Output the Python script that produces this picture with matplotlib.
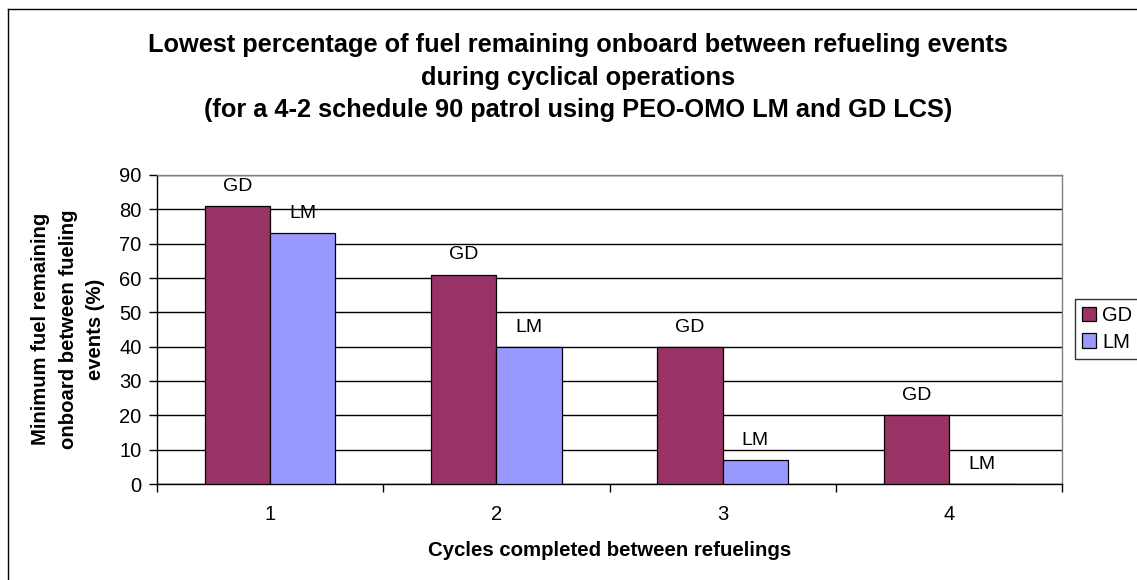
import matplotlib
matplotlib.use("Agg")
import matplotlib.pyplot as plt
from matplotlib.lines import Line2D
import numpy as np

categories = ["1", "2", "3", "4"]
gd_values = [81, 61, 40, 20]
lm_values = [73, 40, 7, 0]
series_names = ["GD", "LM"]
title_lines = [
    "Lowest percentage of fuel remaining onboard between refueling events",
    "during cyclical operations",
    "(for a 4-2 schedule 90 patrol using PEO-OMO LM and GD LCS)",
]
y_label = "Minimum fuel remaining\nonboard between fueling\nevents (%)"
x_label = "Cycles completed between refuelings"

plt.rcParams['font.family'] = ['Liberation Sans', 'DejaVu Sans']

W, H = 1137, 580
fig = plt.figure(figsize=(W / 100, H / 100), dpi=100)
fig.patch.set_facecolor("white")

left, right, top, bottom = 157, 1062, 175, 484
ax = fig.add_axes([left / W, 1 - bottom / H, (right - left) / W, (bottom - top) / H])

x = np.arange(len(categories))
bw = 0.288
gd_color = "#993366"
lm_color = "#9999FF"
b1 = ax.bar(x - bw / 2, gd_values, bw, color=gd_color, edgecolor="black", linewidth=0.9, zorder=3, label=series_names[0])
b2 = ax.bar(x + bw / 2, lm_values, bw, color=lm_color, edgecolor="black", linewidth=0.9, zorder=3, label=series_names[1])

for bars, name in ((b1, series_names[0]), (b2, series_names[1])):
    for r in bars:
        ax.annotate(name, (r.get_x() + r.get_width() / 2, r.get_height()),
                    xytext=(0, 8), textcoords="offset points",
                    ha="center", va="bottom", fontsize=14, zorder=4)

ax.set_xlim(-0.5, len(categories) - 0.5)
ax.set_ylim(0, 90)
ax.set_yticks(np.arange(0, 91, 10))
ax.yaxis.grid(True, color="black", linewidth=1.0, zorder=0)
ax.set_axisbelow(True)

ax.set_xticks(np.arange(-0.5, len(categories), 1.0))
ax.set_xticklabels([])
ax.set_xticks(x, minor=True)
ax.set_xticklabels(categories, minor=True)
ax.tick_params(axis="x", which="major", length=6, width=1, direction="out", color="black")
ax.tick_params(axis="x", which="minor", length=0, pad=15, labelsize=14.5)
ax.tick_params(axis="y", length=6, width=1, direction="out", pad=5, labelsize=14.5)

for s in ("left", "bottom"):
    ax.spines[s].set_color("black")
    ax.spines[s].set_linewidth(1.0)
for s in ("top", "right"):
    ax.spines[s].set_color("#808080")
    ax.spines[s].set_linewidth(1.0)

for yy, t in zip([45, 78, 110], title_lines):
    fig.text(578 / W, 1 - yy / H, t, ha="center", va="center", fontsize=18.3, fontweight="bold")

fig.text(68 / W, 1 - 329 / H, y_label, rotation=90, ha="center", va="center",
         fontsize=14.6, fontweight="bold", linespacing=1.55, multialignment="center")
fig.text(610 / W, 1 - 551 / H, x_label, ha="center", va="center", fontsize=14.7, fontweight="bold")

leg = fig.legend(handles=[b1, b2], loc="center left", bbox_to_anchor=(1075 / W, 1 - 329 / H),
                 frameon=True, fancybox=False, edgecolor="black", fontsize=14.5,
                 handlelength=0.7, handleheight=0.7, handletextpad=0.3,
                 borderpad=0.35, labelspacing=0.35, borderaxespad=0)
leg.get_frame().set_linewidth(1.0)

fig.add_artist(Line2D([8 / W, 1.0], [1 - 9 / H, 1 - 9 / H], transform=fig.transFigure, color="black", lw=1))
fig.add_artist(Line2D([8 / W, 8 / W], [1 - 9 / H, 0.0], transform=fig.transFigure, color="black", lw=1))

fig.savefig("out.png", dpi=100, facecolor="white")
